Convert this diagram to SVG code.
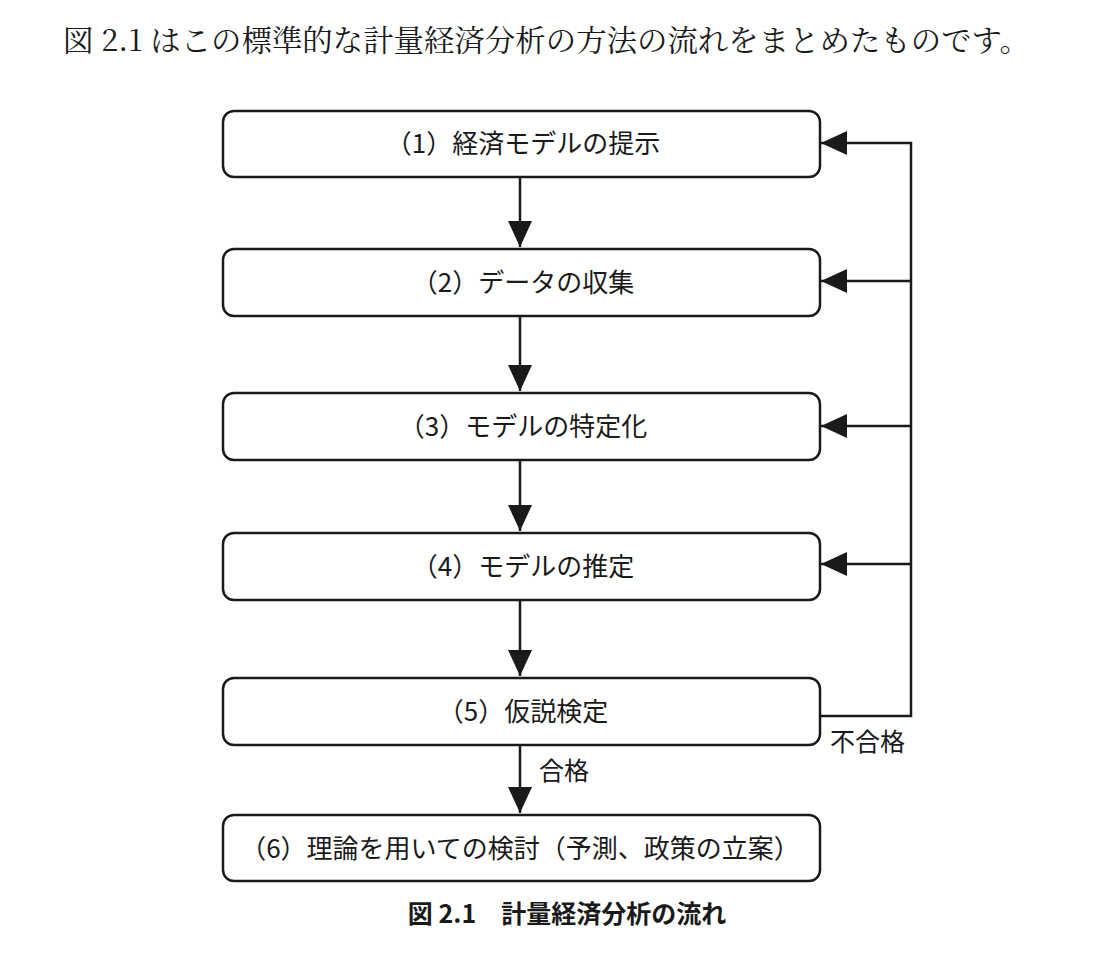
<svg xmlns="http://www.w3.org/2000/svg" width="1106" height="971" viewBox="0 0 1106 971">
<defs>
<style>
.box{fill:#fff;stroke:#1a1a1a;stroke-width:2.5}
.lbl{font-family:"Noto Sans CJK JP","Noto Sans",sans-serif;font-size:26px;fill:#1a1a1a;text-anchor:middle}
.edge{fill:none;stroke:#1a1a1a;stroke-width:2.5}
.side{font-family:"Noto Sans CJK JP","Noto Sans",sans-serif;font-size:25px;fill:#1a1a1a}
</style>
<marker id="ah" viewBox="0 0 26 24" refX="26" refY="12" markerWidth="26" markerHeight="24" markerUnits="userSpaceOnUse" orient="auto">
<path d="M0,0 L26,12 L0,24 Z" fill="#1a1a1a"/>
</marker>
</defs>
<rect width="1106" height="971" fill="#fff"/>
<text x="63" y="51" font-family="Noto Serif CJK JP,Liberation Serif,Noto Sans CJK JP,serif" font-size="30" fill="#1a1a1a" textLength="967" lengthAdjust="spacingAndGlyphs">図 2.1 はこの標準的な計量経済分析の方法の流れをまとめたものです。</text>
<g id="connectors">
<path class="edge" d="M520,177 V247" marker-end="url(#ah)"/>
<path class="edge" d="M520,317 V391" marker-end="url(#ah)"/>
<path class="edge" d="M520,460 V531" marker-end="url(#ah)"/>
<path class="edge" d="M520,600 V676" marker-end="url(#ah)"/>
<path class="edge" d="M520,745 V813" marker-end="url(#ah)"/>
<path class="edge" d="M820,716 H911 V143 H821" marker-end="url(#ah)"/>
<path class="edge" d="M911,281 H821" marker-end="url(#ah)"/>
<path class="edge" d="M911,426 H821" marker-end="url(#ah)"/>
<path class="edge" d="M911,564 H821" marker-end="url(#ah)"/>
<text class="side" x="539" y="780">合格</text>
<text class="side" x="830" y="751">不合格</text>
</g>
<g id="n1"><rect class="box" x="223" y="111" width="597" height="66" rx="11"/><text class="lbl" x="523" y="153">（1）経済モデルの提示</text></g>
<g id="n2"><rect class="box" x="223" y="249" width="597" height="67" rx="11"/><text class="lbl" x="523" y="292">（2）データの収集</text></g>
<g id="n3"><rect class="box" x="223" y="393" width="597" height="67" rx="11"/><text class="lbl" x="523" y="436">（3）モデルの特定化</text></g>
<g id="n4"><rect class="box" x="223" y="533" width="597" height="67" rx="11"/><text class="lbl" x="523" y="576">（4）モデルの推定</text></g>
<g id="n5"><rect class="box" x="223" y="678" width="597" height="67" rx="11"/><text class="lbl" x="523" y="721">（5）仮説検定</text></g>
<g id="n6"><rect class="box" x="223" y="815" width="597" height="66" rx="11"/><text class="lbl" x="520" y="858">（6）理論を用いての検討（予測、政策の立案）</text></g>
<text x="567" y="923" font-family="Noto Sans CJK JP,Liberation Sans,sans-serif" font-size="25" font-weight="bold" fill="#1a1a1a" text-anchor="middle">図 2.1　計量経済分析の流れ</text>
</svg>
